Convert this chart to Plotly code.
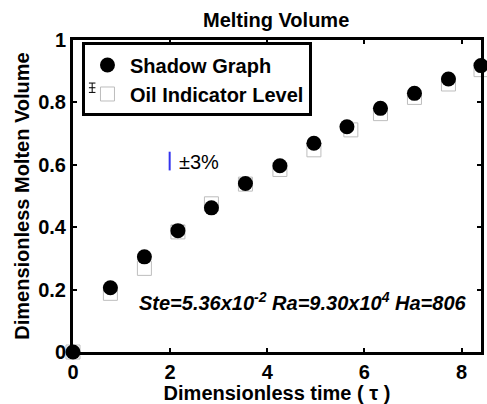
import plotly.graph_objects as go

# Dimensionless time for each measurement
tau = [0.0, 0.77, 1.47, 2.16, 2.85, 3.55, 4.26, 4.96, 5.64, 6.33, 7.03, 7.73, 8.40]
# Molten volume from the shadow graph
shadow = [0.0, 0.206, 0.305, 0.389, 0.462, 0.540, 0.597, 0.669, 0.722, 0.781, 0.829, 0.875, 0.918]
# Molten volume from the oil indicator level
oil = [0.0, 0.188, 0.268, 0.385, 0.475, 0.538, 0.585, 0.648, 0.712, 0.764, 0.816, 0.859, 0.905]
oil_tau = [0.0, 0.77, 1.47, 2.16, 2.85, 3.55, 4.26, 4.96, 5.72, 6.33, 7.03, 7.73, 8.40]

x_ticks = [0, 2, 4, 6, 8]
y_ticks = [0, 0.2, 0.4, 0.6, 0.8, 1]
y_tick_text = ["0", "0.2", "0.4", "0.6", "0.8", "1"]

FONT = "Liberation Sans, Arial, sans-serif"

fig = go.Figure()
fig.add_trace(go.Scatter(
    x=oil_tau, y=oil, mode="markers", name="<b>Oil Indicator Level</b>",
    marker=dict(symbol="square-open", size=14, color="#bdbdbd", line=dict(width=1)),
    cliponaxis=False,
))
fig.add_trace(go.Scatter(
    x=tau, y=shadow, mode="markers", name="<b>Shadow Graph</b>",
    marker=dict(symbol="circle", size=15, color="black"),
    cliponaxis=False,
))

# Error scale marker (±0.03 bar)
fig.add_shape(type="line", x0=1.99, x1=1.99, y0=0.582, y1=0.642,
              line=dict(color="#3333ee", width=2))
fig.add_annotation(x=2.14, y=0.61, text="±3%", showarrow=False, xanchor="left",
                   font=dict(family=FONT, size=20, color="black"))

# Parameter label
fig.add_annotation(
    x=1.32, y=0.162, xanchor="left", showarrow=False,
    text="<b><i>Ste=5.36x10<sup>-2</sup> Ra=9.30x10<sup>4</sup> Ha=806</i></b>",
    font=dict(family=FONT, size=20, color="black"),
)

# Error-bar glyph beside the oil legend entry
gx, gy0, gy1 = 0.047, 0.832, 0.862
fig.add_shape(type="line", xref="paper", yref="paper", x0=gx, x1=gx, y0=gy0, y1=gy1,
              line=dict(color="black", width=1))
for gy in (gy0, gy1, (gy0 + gy1) / 2):
    fig.add_shape(type="line", xref="paper", yref="paper", x0=gx - 0.008, x1=gx + 0.008,
                  y0=gy, y1=gy, line=dict(color="black", width=1))

axis_common = dict(
    showline=True, linewidth=3, linecolor="black", mirror="ticks",
    ticks="inside", ticklen=4, tickwidth=2, tickcolor="black",
    showgrid=False, zeroline=False,
    tickfont=dict(family=FONT, size=20, color="black", weight="bold"),
)

fig.update_xaxes(range=[0, 8.4], tickvals=x_ticks,
                 title=dict(text="<b>Dimensionless time ( τ )</b>", standoff=0,
                            font=dict(family=FONT, size=20, color="black")),
                 **axis_common)
fig.update_yaxes(range=[0, 1], tickvals=y_ticks, ticktext=y_tick_text,
                 title=dict(text="<b>Dimensionless Molten Volume</b>", standoff=4,
                            font=dict(family=FONT, size=20, color="black")),
                 **axis_common)

fig.update_layout(
    width=487, height=404,
    margin=dict(l=73, r=3, t=40, b=52),
    paper_bgcolor="white", plot_bgcolor="white",
    title=dict(text="<b>Melting Volume</b>", x=0.567, xanchor="center", y=0.968,
               font=dict(family=FONT, size=20, color="black")),
    legend=dict(x=0.022, y=0.992, xanchor="left", yanchor="top",
                bordercolor="black", borderwidth=3, bgcolor="rgba(0,0,0,0)",
                traceorder="reversed", tracegroupgap=0, itemwidth=35,
                font=dict(family=FONT, size=20, color="black")),
    showlegend=True,
)

fig.write_html("out.html")
